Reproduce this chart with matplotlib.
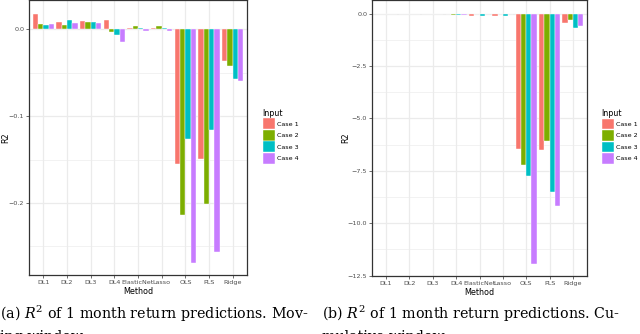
import matplotlib.pyplot as plt
import numpy as np
from matplotlib.ticker import MultipleLocator

plt.rcParams['mathtext.fontset'] = 'dejavuserif'

# data
methods = ['DL1', 'DL2', 'DL3', 'DL4', 'ElasticNet', 'Lasso', 'OLS', 'PLS', 'Ridge']
cases = ['Case 1', 'Case 2', 'Case 3', 'Case 4']
colors = ['#F8766D', '#7CAE00', '#00BFC4', '#C77CFF']

# (a) moving window
mov_case1 = [0.018, 0.008, 0.009, 0.011, 0.0015, 0.0015, -0.1555, -0.149, -0.037]
mov_case2 = [0.0065, 0.0046, 0.0086, -0.0035, 0.0035, 0.0035, -0.214, -0.201, -0.0425]
mov_case3 = [0.005, 0.011, 0.0084, -0.0065, 0.001, 0.001, -0.126, -0.1157, -0.057]
mov_case4 = [0.0065, 0.0077, 0.0077, -0.0146, -0.002, -0.0017, -0.269, -0.256, -0.060]

# (b) cumulative window
cum_case1 = [-0.01, -0.01, -0.01, -0.03, -0.11, -0.11, -6.45, -6.49, -0.45]
cum_case2 = [-0.01, -0.01, -0.01, -0.05, -0.02, -0.02, -7.24, -6.08, -0.29]
cum_case3 = [-0.01, -0.01, -0.01, -0.08, -0.13, -0.13, -7.76, -8.52, -0.70]
cum_case4 = [-0.01, -0.01, -0.01, -0.05, -0.02, -0.02, -11.92, -9.18, -0.57]

W, H = 640, 334
fig = plt.figure(figsize=(6.4, 3.34), dpi=100)

grey = '#4D4D4D'


def panel(rect, series, ylim, major, leg_x, ylab_x):
    ax = fig.add_axes(rect)
    x = np.arange(len(methods))
    bw = 0.225
    for i, (vals, c) in enumerate(zip(series, colors)):
        ax.bar(x + (i - 1.5) * bw, vals, width=bw, color=c, edgecolor='white',
               linewidth=0.3, label=cases[i], zorder=3)
    ax.set_xlim(-0.6, len(methods) - 0.4)
    ax.set_ylim(*ylim)
    ax.set_xticks(x)
    ax.set_xticklabels(methods, fontsize=4.6, color=grey)
    ax.yaxis.set_major_locator(MultipleLocator(major))
    ax.yaxis.set_minor_locator(MultipleLocator(major / 2))
    yt = [t for t in ax.get_yticks() if ylim[0] - 1e-9 <= t <= ylim[1]]
    ax.set_yticks(yt)
    ax.set_yticklabels(['{:.1f}'.format(t).replace('-', '\u2212') if abs(t) > 1e-12
                        else '0.0' for t in yt], fontsize=4.6, color=grey)
    ax.tick_params(axis='both', which='major', length=2, width=0.5, color='#333333', pad=1.5)
    ax.tick_params(axis='y', which='minor', length=0)
    ax.grid(True, which='major', color='#EBEBEB', linewidth=0.9, zorder=0)
    ax.grid(True, which='minor', axis='y', color='#EBEBEB', linewidth=0.45, zorder=0)
    ax.set_axisbelow(True)
    for s in ax.spines.values():
        s.set_color('#333333')
        s.set_linewidth(0.9)
    ax.set_xlabel('Method', fontsize=5.8, labelpad=1.5)
    ax.set_ylabel('R2', fontsize=5.8)
    ax.yaxis.set_label_coords(ylab_x, 0.5)
    leg = ax.legend(title='Input', loc='upper left', bbox_to_anchor=(leg_x, 0.615),
                    frameon=False, fontsize=4.6, title_fontsize=5.8,
                    handlelength=1.9, handleheight=2.2, handletextpad=0.4,
                    labelspacing=0.12, borderaxespad=0)
    leg._legend_box.align = 'left'
    return ax


panel([29 / W, 1 - 275 / H, 218 / W, 275 / H - 0.001],
      [mov_case1, mov_case2, mov_case3, mov_case4], (-0.2828, 0.0333), 0.1, 1.06, -0.084)
panel([372 / W, 1 - 275.7 / H, 215 / W, 275.7 / H - 0.001],
      [cum_case1, cum_case2, cum_case3, cum_case4], (-12.5, 0.633), 2.5, 1.056, -0.102)

cap = dict(fontsize=10.3, family='DejaVu Serif', va='center', ha='left')
fig.text(0 / W, 1 - 314 / H, '(a) $R^2$ of 1 month return predictions. Mov-', **cap)
fig.text(0 / W, 1 - 337 / H, 'ing window.', **cap)
fig.text(322 / W, 1 - 314 / H, '(b) $R^2$ of 1 month return predictions. Cu-', **cap)
fig.text(322 / W, 1 - 337 / H, 'mulative window.', **cap)

fig.savefig('out.png', dpi=100)
